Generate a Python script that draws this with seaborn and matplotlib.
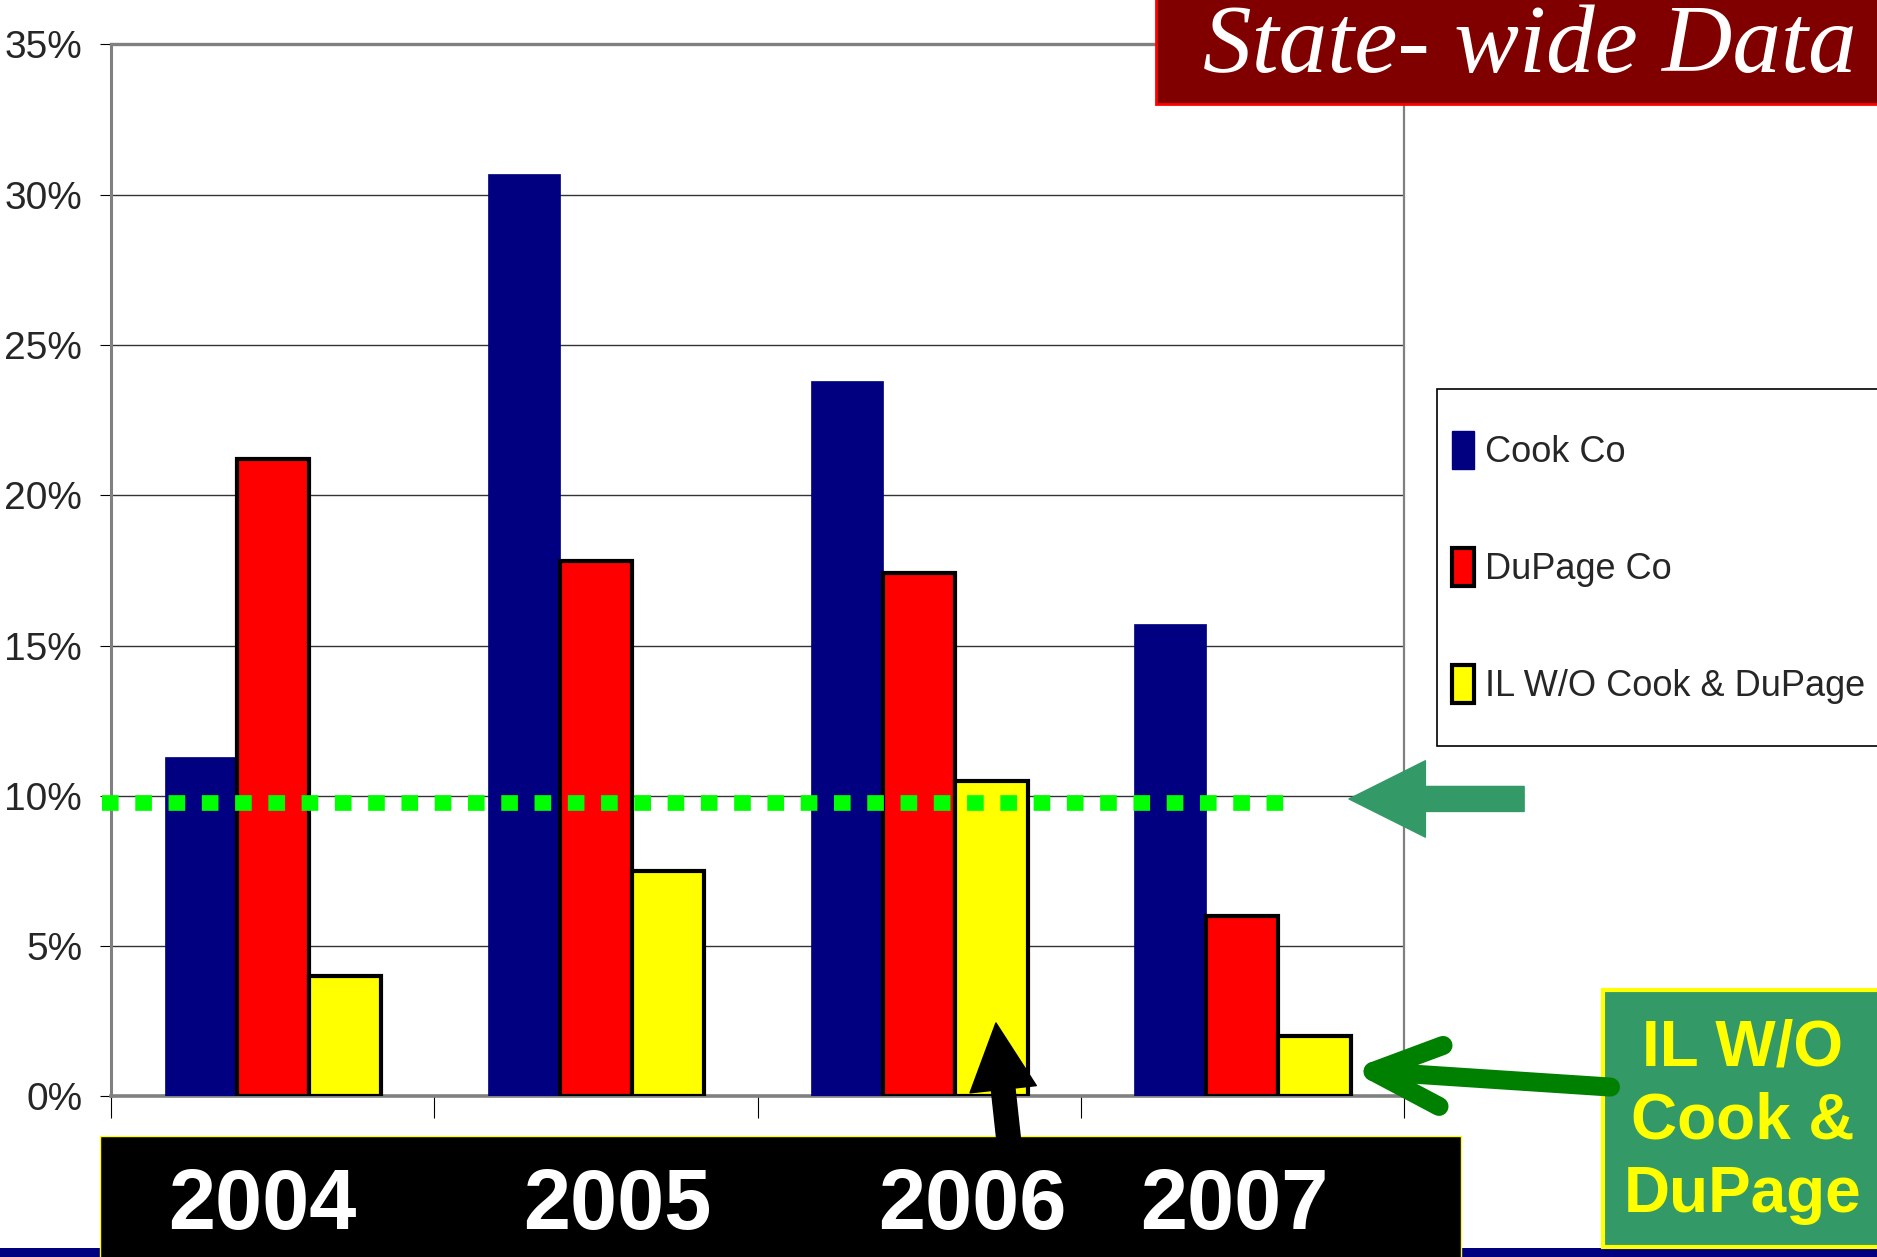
"""
State-wide data: Cook / DuPage / rest of Illinois, 2004-2007
"""

import pandas as pd
import matplotlib
matplotlib.use('Agg')
import matplotlib.pyplot as plt
import matplotlib.transforms as mtransforms
from matplotlib.patches import Rectangle, Patch, FancyArrowPatch
import seaborn as sns


# =============================================================================
# DATA
# =============================================================================

YEARS = ['2004', '2005', '2006', '2007']
SERIES = ['Cook Co', 'DuPage Co', 'IL W/O Cook & DuPage']
COOK = [11.3, 30.7, 23.8, 15.7]
DUPAGE = [21.2, 17.8, 17.4, 6.0]
IL_REST = [4.0, 7.5, 10.5, 2.0]
THRESHOLD = 10
Y_TICKS = [0, 5, 10, 15, 20, 25, 30, 35]

COLORS = ['#000080', '#FF0000', '#FFFF00']
SANS = ['Liberation Sans', 'DejaVu Sans']


# =============================================================================
# PLOT
# =============================================================================

sns.set_style('white')
plt.rcParams['font.family'] = SANS

df = pd.DataFrame({
    'year': YEARS * 3,
    'series': [SERIES[0]] * 4 + [SERIES[1]] * 4 + [SERIES[2]] * 4,
    'value': COOK + DUPAGE + IL_REST,
})

fig = plt.figure(figsize=(18.77, 12.57), dpi=100)
ax = fig.add_axes([0.0593, 0.1277, 0.6887, 0.8371])

sns.barplot(data=df, x='year', y='value', hue='series', order=YEARS,
            hue_order=SERIES, palette=COLORS, saturation=1, width=0.67,
            legend=False, ax=ax, zorder=3)

for cont, name in zip(ax.containers, SERIES):
    for bar in cont:
        if name == 'Cook Co':
            bar.set_edgecolor('#000080')
            bar.set_linewidth(0.5)
        else:
            bar.set_edgecolor('black')
            bar.set_linewidth(3)

# axes styling
ax.set_xlim(-0.5, len(YEARS) - 0.5)
ax.set_ylim(0, 35)
ax.set_yticks(Y_TICKS)
ax.set_yticklabels([f'{t}%' for t in Y_TICKS], fontsize=28)
ax.set_xticks([i - 0.5 for i in range(len(YEARS) + 1)])
ax.set_xticklabels([])
ax.tick_params(axis='y', length=8, width=0.8, color='black', pad=13, left=True)
ax.tick_params(axis='x', length=16, width=0.8, color='black', bottom=True)
ax.set_xlabel('')
ax.set_ylabel('')
ax.yaxis.grid(True, color='#333333', linewidth=1.0)
ax.xaxis.grid(False)
ax.set_axisbelow(True)
for side, lw in [('left', 2.2), ('top', 2.4), ('right', 1.6), ('bottom', 2.6)]:
    ax.spines[side].set_visible(True)
    ax.spines[side].set_color('#808080')
    ax.spines[side].set_linewidth(lw)

# green dotted 10% reference line
ref = ax.axhline(THRESHOLD, xmin=-0.0074, xmax=0.909, color='#00FF00',
                 linewidth=11.3, linestyle=(0, (1.06, 1.06)),
                 dash_capstyle='butt', clip_on=False, zorder=5)
ref.set_transform(ref.get_transform() +
                  mtransforms.ScaledTranslation(0, -5 / 72, fig.dpi_scale_trans))

# legend (frame drawn separately so it runs off the slide edge)
fig.add_artist(Rectangle((0.7657, 0.4068), 0.25, 0.2835, transform=fig.transFigure,
                         facecolor='white', edgecolor='black', linewidth=1.2,
                         zorder=2))
handles = [Patch(facecolor=COLORS[0], edgecolor=COLORS[0], linewidth=1),
           Patch(facecolor=COLORS[1], edgecolor='black', linewidth=3),
           Patch(facecolor=COLORS[2], edgecolor='black', linewidth=3)]
leg = fig.legend(handles, SERIES, loc='center left', bbox_to_anchor=(0.7734, 0.5485),
                 frameon=False, prop={'size': 26},
                 handlelength=0.62, handleheight=1.25, handletextpad=0.3,
                 labelspacing=2.15, borderpad=0, borderaxespad=0)
leg.set_zorder(3)

# title box
fig.add_artist(Rectangle((0.6157, 0.9173), 0.40, 0.10, transform=fig.transFigure,
                         facecolor='#800000', edgecolor='#FF0000', linewidth=2,
                         zorder=2))
fig.text(0.815, 0.9427, 'State- wide Data', family=['Liberation Serif', 'DejaVu Serif'],
         style='italic', fontsize=70, color='white', ha='center', va='baseline',
         zorder=3)

# bottom strip and year banner
fig.add_artist(Rectangle((0, 0), 1, 0.0072, transform=fig.transFigure,
                         facecolor='#000080', edgecolor='none', zorder=1))
fig.add_artist(Rectangle((0.0533, -0.01), 0.7249, 0.1065, transform=fig.transFigure,
                         facecolor='black', edgecolor='#FFFF00', linewidth=1,
                         zorder=2))
YEAR_LABEL_X = [0.1399, 0.3287, 0.5179, 0.6574]
for x, year in zip(YEAR_LABEL_X, YEARS):
    fig.text(x, 0.0223, year, fontsize=61, fontweight='bold', color='white',
             ha='center', va='baseline', zorder=3)

# callout box
fig.add_artist(Rectangle((0.8538, 0.0082), 0.16, 0.2042, transform=fig.transFigure,
                         facecolor='#339966', edgecolor='#FFFF00', linewidth=3,
                         zorder=2))
fig.text(0.9286, 0.1075, 'IL W/O\nCook &\nDuPage', fontsize=46, fontweight='bold',
         color='#FFFF00', ha='center', va='center', linespacing=1.28, zorder=3)

# arrows
fig.add_artist(FancyArrowPatch(
    (0.812, 0.3644), (0.7187, 0.3644), transform=fig.transFigure,
    arrowstyle='simple,head_length=5.5,head_width=5.5,tail_width=1.8',
    mutation_scale=10, shrinkA=0, shrinkB=0, color='#339966', zorder=4))
fig.add_artist(FancyArrowPatch(
    (0.858, 0.1352), (0.7192, 0.1488), transform=fig.transFigure,
    arrowstyle='->,head_length=4.9,head_width=2.2', mutation_scale=10,
    shrinkA=0, shrinkB=0, color='#008000', linewidth=13.7,
    capstyle='round', joinstyle='round', zorder=4))
fig.add_artist(FancyArrowPatch(
    (0.538, 0.085), (0.5306, 0.1862), transform=fig.transFigure,
    arrowstyle='simple,head_length=4.8,head_width=4.8,tail_width=1.7',
    mutation_scale=10, shrinkA=0, shrinkB=0, color='black', zorder=4))

fig.savefig('out.png', dpi=100, facecolor='white')
plt.close(fig)
